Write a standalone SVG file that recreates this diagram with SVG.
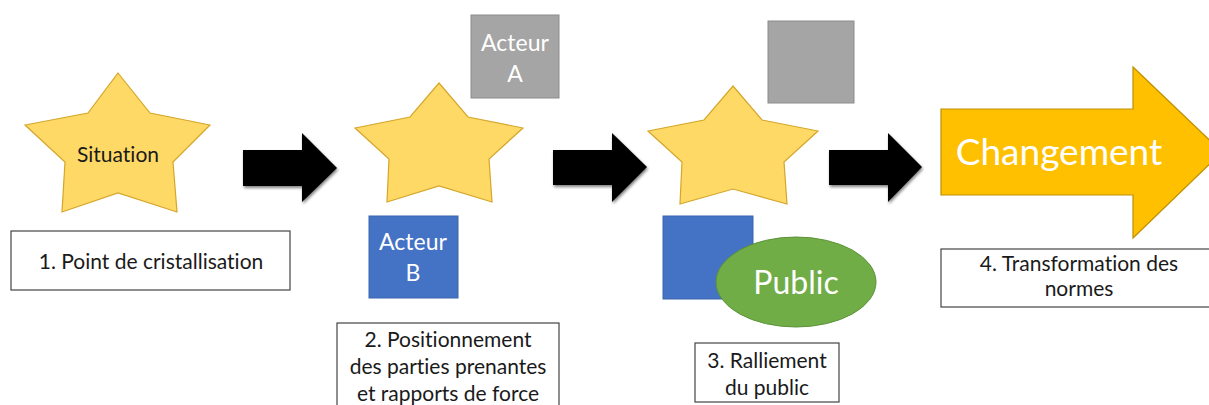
<svg xmlns="http://www.w3.org/2000/svg" width="1209" height="405" viewBox="0 0 1209 405">
<defs>
<style>
text{font-variant-ligatures:none;font-feature-settings:"liga" 0,"clig" 0}
.star{fill:#ffd966;stroke:#d4a62a;stroke-width:1.2}
.lbl{fill:#fff;stroke:#444;stroke-width:1.2}
.t{font-family:Lato,"Open Sans","Liberation Sans",sans-serif;fill:#1a1a1a;text-anchor:middle;font-size:21px}
.w{font-family:Lato,"Open Sans","Liberation Sans",sans-serif;fill:#fff;text-anchor:middle}
.arr{fill:#000;filter:url(#sh)}
</style>
<filter id="sh" x="-20%" y="-20%" width="150%" height="150%">
<feGaussianBlur in="SourceAlpha" stdDeviation="1.5"/>
<feOffset dx="1" dy="2" result="b"/>
<feComponentTransfer><feFuncA type="linear" slope="0.5"/></feComponentTransfer>
<feMerge><feMergeNode/><feMergeNode in="SourceGraphic"/></feMerge>
</filter>
</defs>
<rect width="1209" height="405" fill="#fff"/>

<g id="connectors">
<polygon class="arr" points="243,150 302,150 302,133 337,168 302,202 302,186 243,186"/>
<polygon class="arr" points="553,150 612,150 612,133 647,167 612,202 612,185 553,185"/>
<polygon class="arr" points="829,150 888,150 888,133 922,167 888,202 888,185 829,185"/>
</g>

<g id="star1">
<polygon class="star" points="118,73 150,113 210,125 173,162 177,212 118,193 62,212 65,162 25,125 88,113"/>
<text class="t" x="118" y="162" font-size="21.5">Situation</text>
</g>
<g id="label1">
<rect class="lbl" x="11" y="231" width="279" height="59"/>
<text class="t" x="151" y="269">1. Point de cristallisation</text>
</g>

<g id="star2">
<polygon class="star" points="439,83 468,117 523,128 489,159 492,202 439,186 387,202 389,159 355,128 410,117"/>
</g>
<g id="acteurA">
<rect x="471" y="15" width="88" height="83" fill="#a5a5a5" stroke="#8c8c8c" stroke-width="1"/>
<text class="w" x="515" y="51" font-size="23">Acteur</text>
<text class="w" x="515" y="82" font-size="23">A</text>
</g>
<g id="acteurB">
<rect x="369" y="216" width="89" height="82" fill="#4472c4" stroke="#3a64ad" stroke-width="1"/>
<text class="w" x="413" y="250" font-size="23">Acteur</text>
<text class="w" x="413" y="281" font-size="23">B</text>
</g>
<g id="label2">
<rect class="lbl" x="337" y="323" width="222" height="90"/>
<text class="t" x="448" y="347">2. Positionnement</text>
<text class="t" x="448" y="374">des parties prenantes</text>
<text class="t" x="448" y="401">et rapports de force</text>
</g>

<g id="star3">
<polygon class="star" points="733,86 762,120 818,131 784,162 787,204 733,189 680,204 682,162 648,131 704,120"/>
</g>
<g id="acteurA2">
<rect x="768" y="21" width="86" height="82" fill="#a5a5a5" stroke="#8c8c8c" stroke-width="1"/>
</g>
<g id="acteurB2">
<rect x="663" y="216" width="90" height="83" fill="#4472c4" stroke="#3a64ad" stroke-width="1"/>
</g>
<g id="public">
<ellipse cx="796" cy="282" rx="80" ry="45" fill="#70ad47" stroke="#5b9237" stroke-width="1"/>
<text class="w" x="796" y="294" font-size="32">Public</text>
</g>
<g id="label3">
<rect class="lbl" x="695" y="343" width="144" height="59"/>
<text class="t" x="767" y="368">3. Ralliement</text>
<text class="t" x="767" y="395">du public</text>
</g>

<g id="changement">
<polygon points="941,109 1133,109 1133,67 1222,152 1133,238 1133,195 941,195" fill="#ffc000" stroke="#bf9000" stroke-width="1.2"/>
<text class="w" x="1059" y="165" font-size="37">Changement</text>
</g>
<g id="label4">
<rect class="lbl" x="941" y="249" width="280" height="58"/>
<text class="t" x="1079" y="271">4. Transformation des</text>
<text class="t" x="1079" y="296">normes</text>
</g>
</svg>
